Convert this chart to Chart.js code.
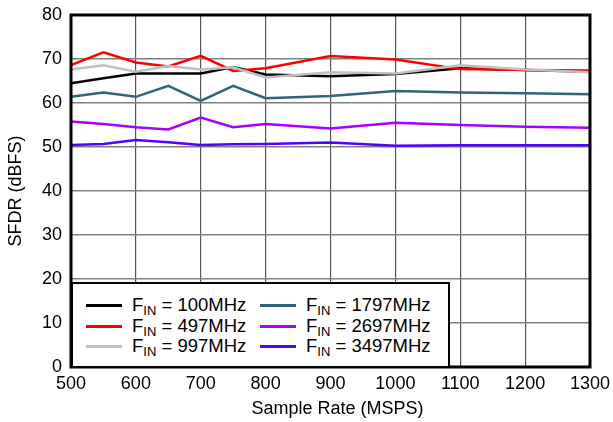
<!DOCTYPE html>
<html>
<head>
<meta charset="utf-8">
<script src="https://cdn.jsdelivr.net/npm/chart.js@4"></script>
<style>
  html, body { margin: 0; padding: 0; background: #fff; }
  #wrap { position: relative; width: 613px; height: 422px; font-family: "Liberation Sans", Arial, sans-serif; }
  #legend { position: absolute; left: 71px; top: 282px; width: 379px; height: 86px; box-sizing: border-box; border: 2px solid #000; background: #fff; }
  .item { position: absolute; height: 20px; }
  .swatch { position: absolute; top: 9px; width: 36px; height: 3px; }
  .lbl { position: absolute; left: 46px; top: 0; font-size: 18.5px; line-height: 20px; white-space: nowrap; color: #000; }
  .lbl sub { font-size: 13px; vertical-align: -4px; line-height: 0; }
</style>
</head>
<body>
<div id="wrap">
  <canvas id="c" width="613" height="422"></canvas>
  <div id="legend"></div>
</div>
<script>
const sampleRates = [500, 550, 600, 650, 700, 750, 800, 900, 1000, 1100, 1200, 1300];
const seriesLabels = ["100MHz", "497MHz", "997MHz", "1797MHz", "2697MHz", "3497MHz"];
const seriesColors = ["#000000", "#ff0000", "#c0c0c0", "#2f6479", "#a600ff", "#5200ff"];
const fin100  = [64.5, 65.6, 66.7, 66.7, 66.7, 68.2, 66.5, 66.1, 66.6, 67.9, 67.5, 67.1];
const fin497  = [68.6, 71.5, 69.2, 68.3, 70.7, 67.3, 67.9, 70.7, 69.9, 67.7, 67.5, 67.4];
const fin997  = [67.6, 68.6, 67.1, 68.4, 67.6, 68.1, 65.8, 67.0, 66.7, 68.6, 67.6, 67.0];
const fin1797 = [61.4, 62.4, 61.4, 63.9, 60.5, 63.9, 61.1, 61.6, 62.7, 62.4, 62.2, 62.0];
const fin2697 = [55.8, 55.2, 54.5, 54.0, 56.7, 54.5, 55.2, 54.2, 55.5, 55.0, 54.6, 54.4];
const fin3497 = [50.45, 50.7, 51.6, 51.1, 50.45, 50.6, 50.7, 51.0, 50.3, 50.4, 50.4, 50.4];
const seriesValues = [fin100, fin497, fin997, fin1797, fin2697, fin3497];
const yTicks = [0, 10, 20, 30, 40, 50, 60, 70, 80];
const xTicks = [500, 600, 700, 800, 900, 1000, 1100, 1200, 1300];
const xTitle = 'Sample Rate (MSPS)';

const datasets = seriesValues.map((vals, i) => ({
  label: "FIN = " + seriesLabels[i],
  data: vals.map((v, j) => ({ x: sampleRates[j], y: v })),
  borderColor: seriesColors[i],
  backgroundColor: seriesColors[i],
  borderWidth: 2.5,
  pointRadius: 0,
  tension: 0,
  fill: false
}));
datasets.reverse();

const font = { family: '"Liberation Sans", Arial, sans-serif', size: 18 };

const frame = {
  id: 'frame',
  afterDatasetsDraw(chart) {
    const a = chart.chartArea, ctx = chart.ctx;
    ctx.save();
    ctx.strokeStyle = '#000';
    ctx.lineWidth = 3;
    ctx.strokeRect(a.left, a.top, a.right - a.left, a.bottom - a.top);
    ctx.restore();
  },
  afterDraw(chart) {
    const ctx = chart.ctx, a = chart.chartArea;
    ctx.save();
    ctx.fillStyle = '#000';
    ctx.font = font.size + 'px ' + font.family;
    ctx.textAlign = 'center';
    ctx.textBaseline = 'middle';
    ctx.fillText(xTitle, (a.left + a.right) / 2 + 7, 409);
    ctx.restore();
  }
};

new Chart(document.getElementById('c'), {
  type: 'line',
  data: { datasets },
  options: {
    responsive: false,
    animation: false,
    layout: { padding: { top: 15, right: 23, left: 0, bottom: 0 } },
    plugins: { legend: { display: false }, tooltip: { enabled: false } },
    scales: {
      x: {
        type: 'linear', min: 500, max: 1300,
        afterBuildTicks: s => { s.ticks = xTicks.map(v => ({ value: v })); },
        afterFit: s => { s.height = 55; s.paddingLeft = 0; s.paddingRight = 0; },
        grid: { color: '#555', lineWidth: 1.2, drawTicks: false },
        border: { display: false },
        ticks: { color: '#000', font, padding: 6, maxRotation: 0, callback: v => String(v) },
        title: { display: false }
      },
      y: {
        min: 0, max: 80,
        afterBuildTicks: s => { s.ticks = yTicks.map(v => ({ value: v })); },
        afterFit: s => { s.width = 71; s.paddingTop = 0; s.paddingBottom = 0; },
        grid: { color: '#808080', lineWidth: 1.5, drawTicks: false },
        border: { display: false },
        ticks: { color: '#000', font, padding: 9, callback: v => String(v) },
        title: { display: true, text: 'SFDR (dBFS)', color: '#000', font, padding: { top: 5, bottom: 0 } }
      }
    }
  },
  plugins: [frame]
});

const legend = document.getElementById('legend');
const colX = [13, 187];
const rowY = [11, 32, 52];
seriesLabels.forEach((lab, i) => {
  const col = Math.floor(i / 3), row = i % 3;
  const it = document.createElement('div');
  it.className = 'item';
  it.style.left = colX[col] + 'px';
  it.style.top = rowY[row] + 'px';
  const sw = document.createElement('div');
  sw.className = 'swatch';
  sw.style.background = seriesColors[i];
  const tx = document.createElement('div');
  tx.className = 'lbl';
  tx.innerHTML = 'F<sub>IN</sub> = ' + lab;
  it.appendChild(sw); it.appendChild(tx);
  legend.appendChild(it);
});
</script>
</body>
</html>
